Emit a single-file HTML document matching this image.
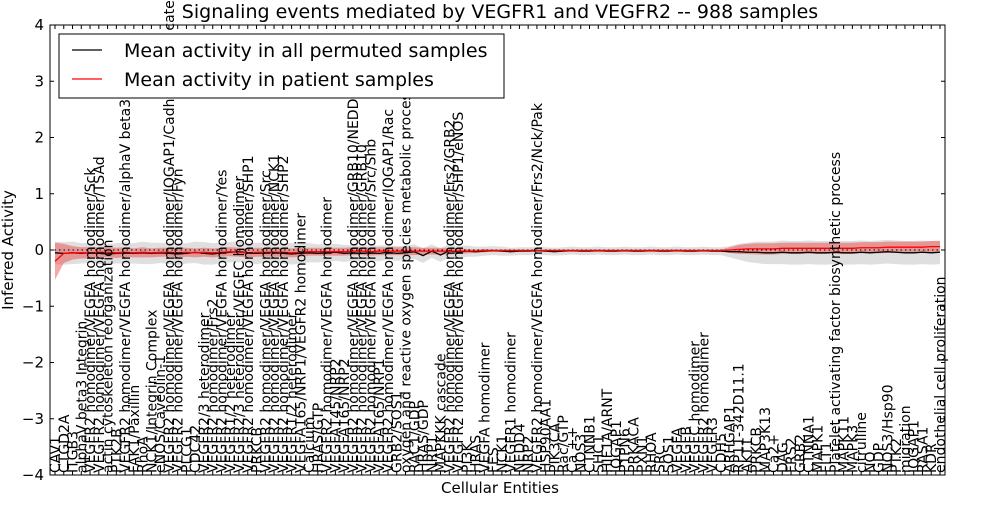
<!DOCTYPE html>
<html><head><meta charset="utf-8"><style>
body{margin:0;background:#fff;width:1000px;height:500px;overflow:hidden}
svg{font-family:"DejaVu Sans","Liberation Sans",sans-serif}
</style></head><body>
<svg id="chart" width="1000" height="500" xmlns="http://www.w3.org/2000/svg"></svg>
<script>
const categories=["CAV1","CTGD2A","ITGB3","alphaV beta3 Integrin","VEGFR2 homodimer/VEGFA homodimer/Sck","VEGFR2 homodimer/VEGFA homodimer/TSAd","actin cytoskeleton reorganization","PTK2B","VEGFR2 homodimer/VEGFA homodimer/alphaV beta3","FAK1/Paxillin","RhoA","NCK1/Integrin Complex","eNOS/Caveolin-1","VEGFR2 homodimer/VEGFA homodimer/IQGAP1/Cadherin/beta catenin","VEGFR2 homodimer/VEGFA homodimer/Fyn","PLCG1","CDC42","VEGFR2/3 heterodimer","VEGFR2 homodimer/Frs2","VEGFR2 homodimer/VEGFA homodimer/Yes","VEGFR1/2 heterodimer","VEGFR2/3 heterodimer/VEGFC homodimer","VEGFR2 homodimer/VEGFA homodimer/SHP1","PRKCB","VEGFR2 homodimer/VEGFA homodimer/Src","VEGFR2 homodimer/VEGFA homodimer/NCK1","VEGFR2 homodimer/VEGFA homodimer/SHP2","VEGFR1/2 heterodimer","VEGFA165/NRP1/VEGFR2 homodimer","Calcium","HRAS/GTP","VEGFR2 homodimer/VEGFA homodimer","VEGFA145/NRP2","VEGFA165/NRP2","VEGFR2 homodimer/VEGFA homodimer/GRB10/NEDD4","VEGFR2 homodimer/VEGFA homodimer/GRB10","VEGFR2 homodimer/VEGFA homodimer/Src/Shb","VEGFA165/NRP1","VEGFR2 homodimer/VEGFA homodimer/IQGAP1/Rac","GRB2/SOS1","oxygen and reactive oxygen species metabolic process","RAC1/GDP","HRAS/GDP","NRP1","MAPKKK cascade","VEGFR2 homodimer/VEGFA homodimer/Frs2/GRB2","VEGFR2 homodimer/VEGFA homodimer/SHP1/eNOS","PI3K","HRAS","VEGFA homodimer","FES","NCK1","VEGFR1 homodimer","NEDD4","NRP2","VEGFR2 homodimer/VEGFA homodimer/Frs2/Nck/Pak","HSP90AA1","PIK3CA","Rac/GTP","Ca ++","NOS3","CTNNB1","SHC1","HIF1A/ARNT","IQGAP1","PTPN6","PRKACA","PXN1","RHOA","SRC","SOS1","VEGFA","VEGFB","VEGFC homodimer","VEGFR2 homodimer","VEGFR3","CDH5","ARHGAP1","RP11-342D11.1","AKT1","PRKCB","MAP3K13","Ca2+","DAG","FRS2","GRB2","CTNNA1","MAPK1","FLT1","Platelet activating factor biosynthetic process","MAPK11","MAPK3","citrulline","NO","GDP","NOS3/Hsp90","PTK2","migration","IQGAP1","RASA1","KDR","endothelial cell proliferation"];
const meanPermuted=[-0.05,-0.06,-0.05,-0.06,-0.05,-0.06,-0.07,-0.06,-0.05,-0.06,-0.05,-0.06,-0.05,-0.06,-0.07,-0.06,-0.04,-0.06,-0.07,-0.05,-0.04,-0.03,-0.05,-0.06,-0.05,-0.04,-0.06,-0.07,-0.06,-0.05,-0.06,-0.05,-0.04,-0.06,-0.05,-0.06,-0.05,-0.06,-0.04,-0.06,-0.05,-0.03,-0.1,-0.02,-0.09,-0.01,-0.04,-0.02,-0.03,-0.02,-0.01,-0.02,-0.03,-0.02,-0.02,-0.01,-0.02,-0.03,-0.02,-0.01,-0.02,-0.02,-0.01,-0.02,-0.02,-0.01,-0.02,-0.02,-0.01,-0.02,-0.02,-0.01,-0.02,-0.02,-0.01,-0.02,-0.02,-0.03,-0.03,-0.04,-0.04,-0.05,-0.05,-0.04,-0.05,-0.05,-0.04,-0.05,-0.05,-0.04,-0.05,-0.05,-0.04,-0.05,-0.04,-0.03,-0.04,-0.05,-0.05,-0.04,-0.05,-0.04,-0.04,-0.05,-0.05,-0.05];
const meanPatient=[-0.2,-0.06,-0.05,-0.05,-0.05,-0.04,-0.04,-0.05,-0.04,-0.05,-0.04,-0.05,-0.04,-0.04,-0.05,-0.04,-0.05,-0.04,-0.05,-0.04,-0.03,-0.04,-0.05,-0.04,-0.04,-0.04,-0.04,-0.05,-0.04,-0.03,-0.03,-0.03,-0.03,-0.03,-0.02,-0.02,-0.03,-0.02,-0.02,-0.02,-0.02,-0.02,-0.02,-0.02,-0.02,-0.02,-0.02,-0.02,-0.02,-0.01,-0.01,-0.01,-0.01,-0.01,-0.01,-0.01,-0.01,-0.01,-0.01,-0.01,-0.01,-0.01,-0.01,-0.01,-0.01,-0.01,-0.01,-0.01,-0.01,-0.01,-0.01,-0.01,-0.01,-0.01,-0.01,-0.01,-0.01,0.0,0.01,0.02,0.02,0.02,0.02,0.03,0.03,0.03,0.03,0.03,0.03,0.03,0.03,0.03,0.04,0.04,0.04,0.05,0.05,0.05,0.05,0.05,0.06,0.06,0.06,0.06,0.06,0.06];
const greyHalf=[0.2,0.2,0.2,0.18,0.18,0.19,0.18,0.18,0.19,0.18,0.2,0.19,0.18,0.19,0.2,0.18,0.19,0.2,0.19,0.18,0.18,0.19,0.18,0.19,0.18,0.19,0.18,0.19,0.18,0.17,0.16,0.16,0.15,0.15,0.14,0.14,0.14,0.14,0.13,0.13,0.13,0.13,0.13,0.12,0.12,0.12,0.11,0.1,0.09,0.08,0.08,0.08,0.07,0.07,0.07,0.07,0.07,0.07,0.07,0.07,0.07,0.07,0.07,0.07,0.07,0.07,0.07,0.07,0.07,0.07,0.07,0.07,0.07,0.07,0.07,0.07,0.07,0.1,0.14,0.17,0.19,0.2,0.2,0.21,0.21,0.21,0.21,0.21,0.21,0.21,0.21,0.21,0.21,0.21,0.21,0.21,0.21,0.21,0.21,0.21,0.21,0.21,0.21,0.21,0.21,0.21];
const redHalf=[0.33,0.17,0.12,0.1,0.1,0.09,0.09,0.09,0.09,0.08,0.09,0.08,0.08,0.08,0.09,0.08,0.08,0.08,0.08,0.08,0.08,0.08,0.08,0.08,0.08,0.08,0.08,0.08,0.08,0.07,0.07,0.07,0.07,0.07,0.07,0.07,0.07,0.07,0.07,0.07,0.07,0.07,0.06,0.06,0.06,0.06,0.05,0.04,0.03,0.03,0.02,0.02,0.02,0.02,0.02,0.02,0.02,0.02,0.02,0.02,0.02,0.02,0.02,0.02,0.02,0.02,0.02,0.02,0.02,0.02,0.02,0.02,0.02,0.02,0.02,0.02,0.02,0.05,0.08,0.09,0.1,0.1,0.1,0.1,0.1,0.1,0.1,0.1,0.1,0.1,0.1,0.1,0.1,0.1,0.1,0.1,0.1,0.1,0.1,0.1,0.1,0.1,0.1,0.1,0.1,0.1];
const yTicks=[-4,-3,-2,-1,0,1,2,3,4];

const NS="http://www.w3.org/2000/svg";
const svg=document.getElementById('chart');
const L=50,R=945,T=25,B=475;
const N=categories.length;
const x=i=>L+5+i*(R-L-10)/(N-1);
const y=v=>T+(4-v)*(B-T)/8;
function mk(tag,attrs,parent){const e=document.createElementNS(NS,tag);for(const k in attrs)e.setAttribute(k,attrs[k]);(parent||svg).appendChild(e);return e;}
function band(mid,half,fill,name){
  let d="";
  for(let i=0;i<N;i++)d+=(i?"L":"M")+x(i)+","+y(mid[i]+half[i]);
  for(let i=N-1;i>=0;i--)d+="L"+x(i)+","+y(mid[i]-half[i]);
  const p=mk('path',{d:d+"Z",fill:fill,stroke:'none'});
  
  
}
function line(vals,stroke,name){
  let d="";for(let i=0;i<N;i++)d+=(i?"L":"M")+x(i)+","+y(vals[i]);
  const p=mk('path',{d:d,fill:'none',stroke:stroke,'stroke-width':1.3});
  
  
}
band(meanPermuted,greyHalf,'rgba(185,185,185,0.45)','permuted-band');
band(meanPatient,redHalf,'rgba(240,60,60,0.45)','patient-band');
const zl=mk('line',{x1:L,x2:R,y1:y(0),y2:y(0),stroke:'#000','stroke-dasharray':'1.5,3','stroke-width':1});


line(meanPermuted,'#000','permuted-mean-line');
line(meanPatient,'#f00','patient-mean-line');
categories.forEach((c,i)=>{
  const t=mk('text',{x:0,y:0,transform:`translate(${x(i)+5},${B-2}) rotate(-90)`,'font-size':14,fill:'#000'});
  t.textContent=c;
  
  
  mk('line',{x1:x(i),x2:x(i),y1:B,y2:B-4,stroke:'#000'});
  mk('line',{x1:x(i),x2:x(i),y1:T,y2:T+4,stroke:'#000'});
});
yTicks.forEach(v=>{
  mk('line',{x1:L,x2:L+4,y1:y(v),y2:y(v),stroke:'#000'});
  mk('line',{x1:R,x2:R-4,y1:y(v),y2:y(v),stroke:'#000'});
  const t=mk('text',{x:L-6,y:y(v)+5,'text-anchor':'end','font-size':15});
  t.textContent=v<0?'\u2212'+(-v):v;
  
  
});
const fr=mk('rect',{x:L,y:T,width:R-L,height:B-T,fill:'none',stroke:'#000','stroke-width':1});


</script>
<svg style="position:absolute;left:0;top:0" width="1000" height="500" xmlns="http://www.w3.org/2000/svg">
<text x="500" y="18" text-anchor="middle" font-size="19">Signaling events mediated by VEGFR1 and VEGFR2 -- 988 samples</text>
<text x="500" y="493" text-anchor="middle" font-size="15">Cellular Entities</text>
<text transform="translate(13,250) rotate(-90)" text-anchor="middle" font-size="15">Inferred Activity</text>
<g>
<rect x="59" y="34" width="445" height="64" fill="#fff" stroke="#000"/>
<line x1="72" x2="102" y1="50" y2="50" stroke="#000" stroke-width="1.3"/>
<text x="124" y="57" font-size="19">Mean activity in all permuted samples</text>
<line x1="72" x2="102" y1="79" y2="79" stroke="#f00" stroke-width="1.3"/>
<text x="124" y="86" font-size="19">Mean activity in patient samples</text>
</g>
</svg>
</body></html>
